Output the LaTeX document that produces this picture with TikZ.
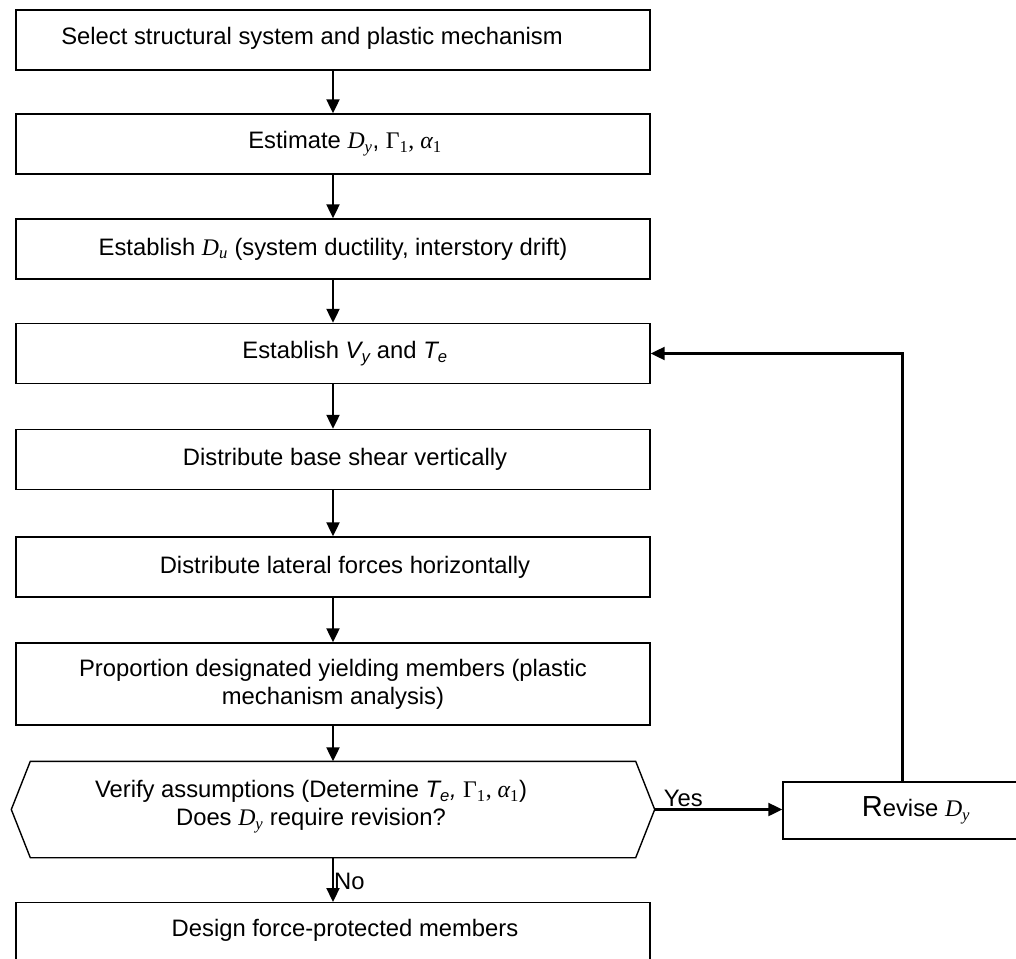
\documentclass[tikz,border=0pt]{standalone}
\usepackage{fontspec}
\setmainfont{Liberation Sans}
\newfontfamily\tms{Liberation Serif}
\usetikzlibrary{arrows.meta,positioning,calc}
\newcommand{\lowsub}[1]{\textsubscript{#1}}
\newcommand{\pushr}{\hspace*{24pt}}

\tikzset{
  stage/.style={draw, line width=1.4pt, minimum width=634pt, minimum height=60pt,
    inner sep=0pt, align=center, font=\fontsize{23.8}{28}\selectfont},
  flow/.style={-{Triangle[length=14pt,width=13pt]}, line width=2.2pt},
  tag/.style={font=\fontsize{23.8}{28}\selectfont, inner sep=1pt}
}

\begin{document}
\begin{tikzpicture}[x=1pt,y=-1pt]
\useasboundingbox (0,0) rectangle (1016,958);

% main column of steps
\node[stage] (select) at (333,40) {\hspace*{-42pt}\raisebox{8pt}{Select structural system and plastic mechanism}};
\node[stage] (estimate) at (333,144) {\pushr Estimate {\tms\itshape D\lowsub{y}}, {\tms Γ\lowsub{1}, \itshape α\lowsub{\upshape 1}}};
\node[stage] (ductility) at (333,249) {Establish {\tms\itshape D\lowsub{u}} (system ductility, interstory drift)};
\node[stage] (shear) at (333,353.5) {\pushr Establish \textit{V\lowsub{y}} and \textit{T\lowsub{e}}};
\node[stage] (vertical) at (333,459.5) {\pushr Distribute base shear vertically};
\node[stage] (horizontal) at (333,567) {\pushr Distribute lateral forces horizontally};
\node[stage, minimum height=82pt] (members) at (333,684) {Proportion designated yielding members (plastic\\mechanism analysis)};

% decision
\node[stage, draw=none, minimum width=604pt, minimum height=95pt] (check) at (333,809.5) {};
\node[tag, align=center, xshift=-22pt, yshift=3pt] (checktext) at (check) {Verify assumptions (Determine \textit{T\lowsub{e},} {\tms Γ\lowsub{1}, \itshape α\lowsub{\upshape 1}})\\Does {\tms\itshape D\lowsub{y}} require revision?};
\draw[line width=1.4pt] (check.north west) -- (check.north east)
  -- ($(check.east)+(19,0)$) coordinate (checktip)
  -- (check.south east) -- (check.south west)
  -- ($(check.west)+(-19,0)$) -- cycle;

\node[stage, anchor=north] (protect) at (333,902) {\pushr\raisebox{10pt}{Design force-protected members}};

% revision branch
\node[stage, minimum width=239pt, minimum height=57pt] (revise) at (902.5,810.5) {\hspace*{27pt}{\fontsize{29}{30}\selectfont R}evise {\tms\itshape D\lowsub{y}}};

% connectors
\draw[flow] (select) -- (estimate);
\draw[flow] (estimate) -- (ductility);
\draw[flow] (ductility) -- (shear);
\draw[flow] (shear) -- (vertical);
\draw[flow] (vertical) -- (horizontal);
\draw[flow] (horizontal) -- (members);
\draw[flow] (members) -- (check);
\draw[flow] (check) -- node[tag, right, xshift=-1pt, yshift=-2pt] {No} (protect);
\draw[flow] (checktip) -- node[tag, above right, pos=0, xshift=7pt, yshift=1pt] {Yes} (checktip -| revise.west);
\draw[flow] (revise.north) |- (shear.east);
\end{tikzpicture}
\end{document}
